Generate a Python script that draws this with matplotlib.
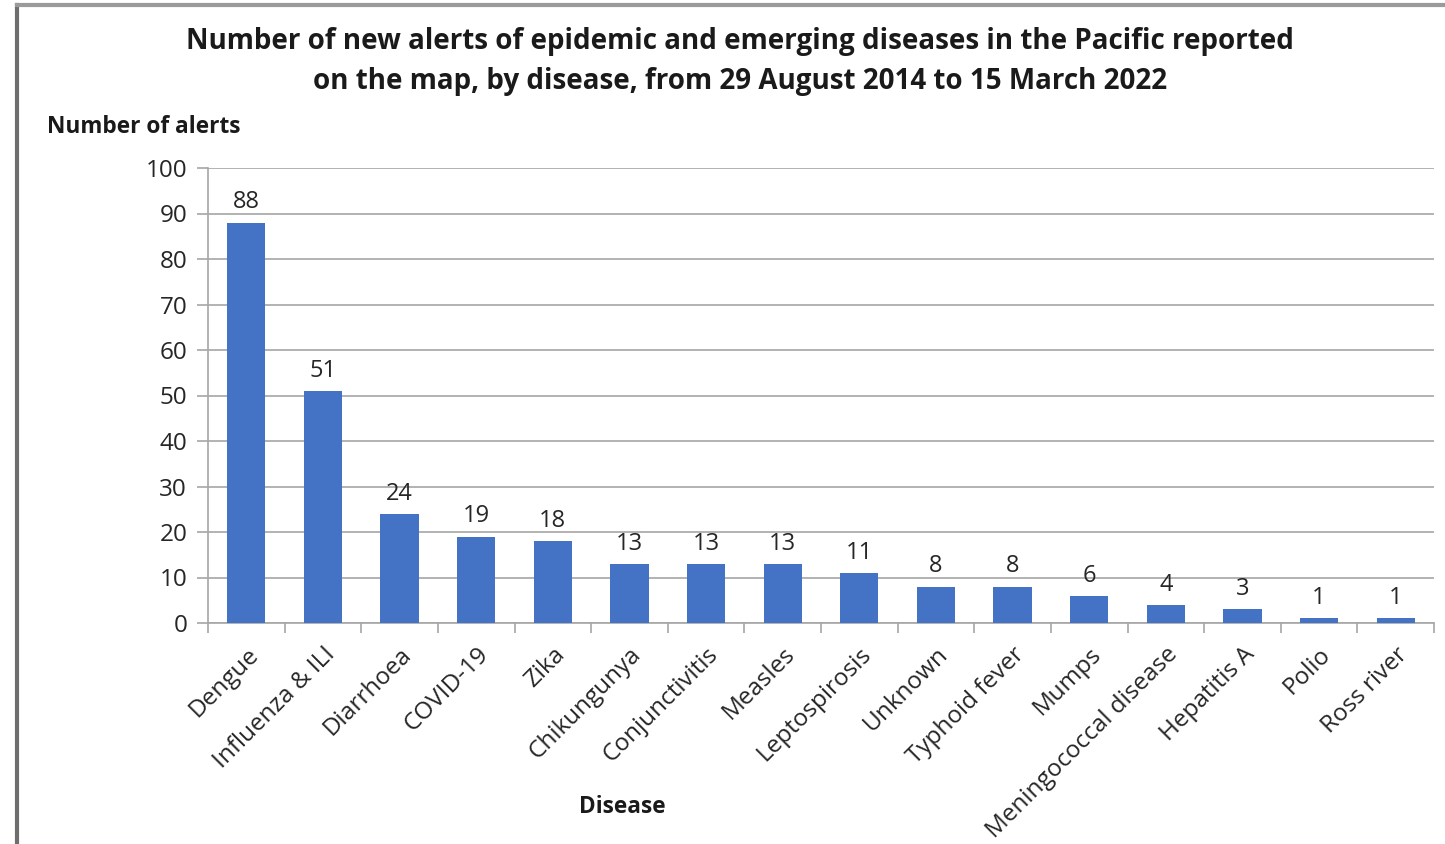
import numpy as np
from matplotlib import pyplot as plt
from matplotlib.lines import Line2D

# data
diseases = ['Dengue', 'Influenza & ILI', 'Diarrhoea', 'COVID-19', 'Zika',
            'Chikungunya', 'Conjunctivitis', 'Measles', 'Leptospirosis',
            'Unknown', 'Typhoid fever', 'Mumps', 'Meningococcal disease',
            'Hepatitis A', 'Polio', 'Ross river']
alerts = [88, 51, 24, 19, 18, 13, 13, 13, 11, 8, 8, 6, 4, 3, 1, 1]
yticks = [0, 10, 20, 30, 40, 50, 60, 70, 80, 90, 100]

plt.rcParams['font.family'] = ['Open Sans', 'DejaVu Sans']
bar_col = '#4472C4'
grid_col = '#A6A6A6'

fig = plt.figure(figsize=(14.45, 8.44), dpi=100)
ax = fig.add_axes([208/1445, 1-623/844, (1434-208)/1445, (623-168)/844])

x = np.arange(len(diseases))
ax.bar(x, alerts, width=0.5, color=bar_col, zorder=3)
for xi, v in zip(x, alerts):
    ax.text(xi, v + 1.8, str(v), ha='center', va='bottom', fontsize=17,
            color='#262626')

ax.set_xlim(-0.5, len(diseases) - 0.5)
ax.set_ylim(0, 100)
ax.set_yticks(yticks)
ax.set_yticklabels([str(t) for t in yticks], fontsize=17.5, color='#262626')
ax.yaxis.grid(True, color=grid_col, linewidth=1.2, zorder=0)
ax.tick_params(axis='y', length=8, color=grid_col, width=1.2, pad=7)

# category boundary ticks
ax.set_xticks(np.arange(len(diseases) + 1) - 0.5, minor=False)
ax.set_xticklabels([])
ax.tick_params(axis='x', which='major', length=7, color=grid_col, width=1.2)
ax.set_xticks(x, minor=True)
ax.set_xticklabels(diseases, minor=True, rotation=45, ha='right',
                   rotation_mode='anchor', fontsize=17.5, color='#262626')
ax.tick_params(axis='x', which='minor', length=0, pad=14)

for s in ['top', 'right']:
    ax.spines[s].set_visible(False)
ax.spines['left'].set_color(grid_col)
ax.spines['bottom'].set_color(grid_col)
ax.spines['left'].set_linewidth(1.2)
ax.spines['bottom'].set_linewidth(1.2)

fig.text(0.512, 1-41/844, 'Number of new alerts of epidemic and emerging diseases in the Pacific reported',
         ha='center', va='center', fontsize=20, fontweight='bold', color='#1a1a1a')
fig.text(0.512, 1-82/844, 'on the map, by disease, from 29 August 2014 to 15 March 2022',
         ha='center', va='center', fontsize=20, fontweight='bold', color='#1a1a1a')
fig.text(47/1445, 1-127/844, 'Number of alerts', ha='left', va='center',
         fontsize=16.3, fontweight='bold', color='#1a1a1a')
fig.text(622/1445, 1-807/844, 'Disease', ha='center', va='center',
         fontsize=16.3, fontweight='bold', color='#1a1a1a')

# screenshot frame
fig.add_artist(Line2D([17/1445, 17/1445], [0, 1-5/844], transform=fig.transFigure,
                      color='#6e6e6e', linewidth=3))
fig.add_artist(Line2D([17/1445, 1], [1-5/844, 1-5/844], transform=fig.transFigure,
                      color='#9a9a9a', linewidth=3))

plt.savefig('out.png', dpi=100)
